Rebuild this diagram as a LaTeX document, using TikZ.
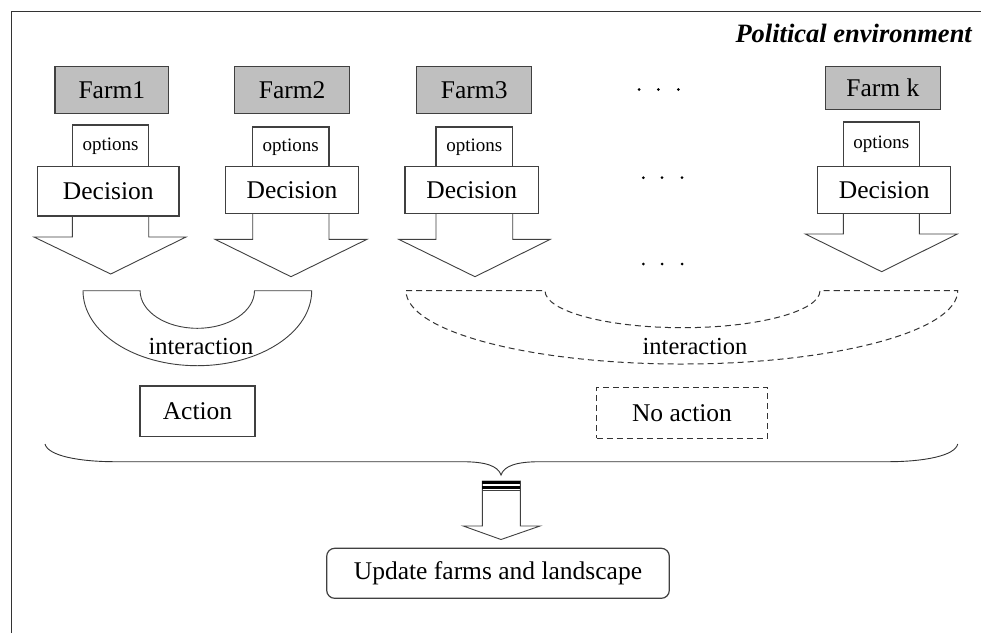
\documentclass[tikz,border=0pt]{standalone}
\usepackage{fontspec}
\setmainfont{Liberation Serif}
\begin{document}
\begin{tikzpicture}[x=1pt,y=-1pt,
  boxline/.style={draw=black!75,line width=1.2pt},
  farmbox/.style={boxline,fill=black!25,inner sep=0pt,font=\fontsize{25.5}{28}\selectfont},
  optbox/.style={boxline,fill=white,inner sep=0pt,font=\fontsize{19}{21}\selectfont},
  decbox/.style={boxline,fill=white,inner sep=0pt,font=\fontsize{25.5}{28}\selectfont},
  actbox/.style={boxline,fill=white,inner sep=0pt,font=\fontsize{25.5}{28}\selectfont},
  blockarrow/.style={draw=black!75,line width=0.9pt,fill=white},
  ringline/.style={draw=black!75,line width=0.9pt},
  dashline/.style={draw=black!80,line width=1pt,dash pattern=on 6pt off 4pt},
  lbl/.style={inner sep=0pt,font=\fontsize{24.5}{27}\selectfont},
  dotmark/.style={fill=black,circle,inner sep=0pt,minimum size=3pt}
]
\useasboundingbox (0,0) rectangle (981,633);
\fill[white] (0,0) rectangle (981,633);
% frame
\draw[black!80,line width=1pt] (11,633) -- (11,11) -- (981,11);
\node[anchor=base east,inner sep=0pt,font=\fontsize{26.5}{29}\selectfont\bfseries\itshape] (title) at (972,42) {Political environment};

% farm boxes
\node[farmbox,minimum width=113.7pt,minimum height=47pt] (f1) at (111.8,90.2) {Farm1};
\node[farmbox,minimum width=115pt,minimum height=47pt] (f2) at (292.2,90.2) {Farm2};
\node[farmbox,minimum width=115pt,minimum height=47pt] (f3) at (474.2,90.2) {Farm3};
\node[farmbox,minimum width=115pt,minimum height=43pt] (fk) at (882.8,88.2) {Farm k};

% options boxes
\node[optbox,minimum width=76.4pt,minimum height=41.7pt] (o1) at (110.5,145.8) {options};
\node[optbox,minimum width=76.7pt,minimum height=39.7pt] (o2) at (290.7,146.8) {options};
\node[optbox,minimum width=76.7pt,minimum height=39.7pt] (o3) at (474.3,146.8) {options};
\node[optbox,minimum width=76pt,minimum height=44.7pt] (ok) at (881.3,144.3) {options};

% block arrows under decisions
\draw[blockarrow] (72.3,210) -- (72.3,237) -- (34,237) -- (110.7,274) -- (186,237) -- (148.7,237) -- (148.7,210);
\draw[blockarrow] (252.7,210) -- (252.7,239.3) -- (215,239.3) -- (291,276.7) -- (367,239.3) -- (329,239.3) -- (329,210);
\draw[blockarrow] (436,210) -- (436,239.3) -- (398.7,239.3) -- (475,276.7) -- (550.3,239.3) -- (512.7,239.3) -- (512.7,210);
\draw[blockarrow] (843.3,210) -- (843.3,234) -- (805.3,234) -- (881.7,271.7) -- (957.3,234) -- (919.3,234) -- (919.3,210);

% decision boxes
\node[decbox,minimum width=141.3pt,minimum height=49.3pt] (d1) at (108.3,191.3) {Decision};
\node[decbox,minimum width=133.3pt,minimum height=46.7pt] (d2) at (292,190) {Decision};
\node[decbox,minimum width=133.3pt,minimum height=46.7pt] (d3) at (471.7,190) {Decision};
\node[decbox,minimum width=133pt,minimum height=46.7pt] (dk) at (884.2,190) {Decision};

% dots
\foreach \yy/\xa/\xb/\xc [count=\i] in {89.5/639/658.3/678.3, 177.7/643.3/662/682, 264/643.3/662/682}{
  \node[dotmark] (dotA\i) at (\xa,\yy) {};
  \node[dotmark] (dotB\i) at (\xb,\yy) {};
  \node[dotmark] (dotC\i) at (\xc,\yy) {};
}

% solid interaction half ring
\draw[ringline] (83,290.7) -- (140.1,290.7)
  .. controls (140.1,311.5) and (165.7,328.3) .. (197.3,328.3)
  .. controls (228.9,328.3) and (254.5,311.5) .. (254.5,290.7)
  -- (311.7,290.7)
  .. controls (311.7,332.1) and (260.4,365.7) .. (197.3,365.7)
  .. controls (134.2,365.7) and (83,332.1) .. (83,290.7) -- cycle;
\node[lbl] (i1) at (201,346.7) {interaction};

% dashed interaction half ring
\draw[dashline] (406,290.7) -- (545,290.7)
  .. controls (545,311.1) and (606.6,327.7) .. (682.5,327.7)
  .. controls (758.4,327.7) and (820,311.1) .. (820,290.7)
  -- (957.7,290.7)
  .. controls (957.7,331.2) and (834.2,364) .. (681.85,364)
  .. controls (529.5,364) and (406,331.2) .. (406,290.7) -- cycle;
\node[lbl] (i2) at (695,346) {interaction};

% action boxes
\node[actbox,minimum width=115pt,minimum height=50.3pt] (act) at (197.5,411.2) {Action};
\node[actbox,dashline,minimum width=170.6pt,minimum height=50.7pt] (noact) at (682,412.7) {No action};

% brace
\draw[draw=black!80,line width=0.9pt] (45,444) .. controls (48,456) and (80,461.7) .. (115,461.7)
  -- (462,461.7) .. controls (486,461.7) and (498,466) .. (501,475)
  .. controls (504,466) and (516,461.7) .. (540,461.7)
  -- (888,461.7) .. controls (923,461.7) and (955,456) .. (957.7,444);
\coordinate (bracetip) at (501,475);

% small striped block arrow
\draw[blockarrow] (482.3,481) -- (482.3,526) -- (463.3,526) -- (501,539.5) -- (540,526) -- (520.3,526) -- (520.3,481) -- cycle;
\fill[black] (482.3,481) rectangle (520.3,483.6);
\fill[black] (482.3,486.4) rectangle (520.3,489);
\draw[black!75,line width=0.8pt] (482.3,490) -- (520.3,490);

% update box
\node[actbox,rounded corners=8pt,minimum width=342.6pt,minimum height=50pt] (upd) at (498,573.3) {Update farms and landscape};
\end{tikzpicture}
\end{document}
